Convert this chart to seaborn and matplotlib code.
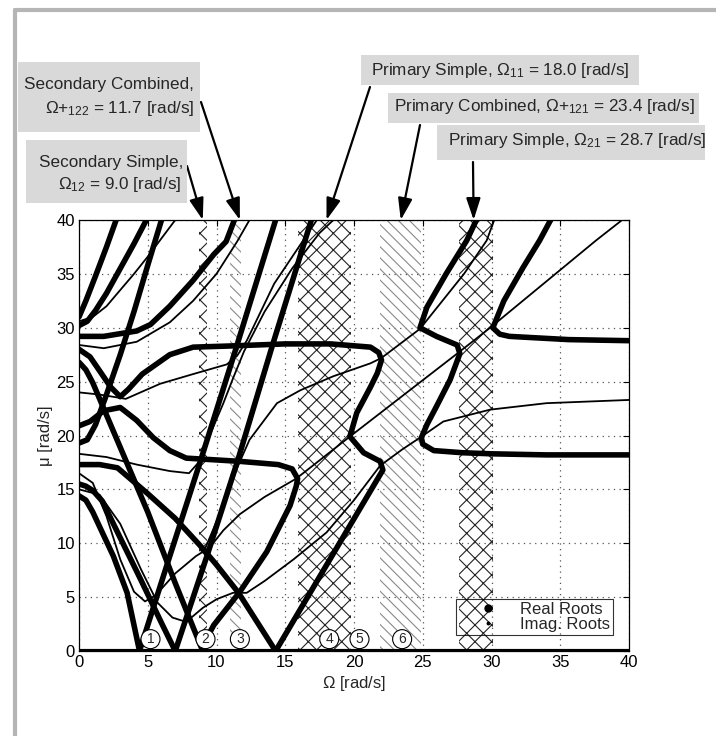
import matplotlib
matplotlib.use("Agg")
import matplotlib.pyplot as plt
import seaborn as sns
import pandas as pd
from matplotlib.patches import Rectangle
from matplotlib.lines import Line2D

# ---------------- data ----------------
x_ticks = [0, 5, 10, 15, 20, 25, 30, 35, 40]
y_ticks = [0, 5, 10, 15, 20, 25, 30, 35, 40]

# instability zones (Omega ranges)
cross_bands = [(8.7, 9.3), (15.9, 19.8), (27.6, 30.1)]
dot_bands = [(11.0, 11.8), (21.9, 24.9)]

zone_labels = ["1", "2", "3", "4", "5", "6"]
zone_label_x = [5.2, 9.2, 11.7, 18.2, 20.4, 23.5]
zone_label_y = 1.1

# real roots (thick curves)
real_a_x = [0, 0.5, 1.0, 2.5, 3.5, 4.4]
real_a_y = [14.4, 14.0, 12.9, 8.8, 5.4, 0]
real_b_x = [4.4, 6.6, 8.8, 11.3, 14.3]
real_b_y = [0, 8.8, 17.5, 27.6, 40]
real_c_x = [0, 0.5, 1.0, 1.7, 3.0, 4.5, 6.0, 7.0]
real_c_y = [15.5, 15.3, 14.9, 13.9, 10.5, 6.6, 2.6, 0]
real_d_x = [7.0, 9.3, 11.5, 14.1, 16.9]
real_d_y = [0, 8.8, 17.5, 28.5, 40]
real_e_x = [0, 0.5, 1.0, 2.0, 3.0, 5.0, 7.0, 9.0]
real_e_y = [26.8, 26.1, 24.9, 21.9, 18.9, 12.9, 6.3, 0]
real_f_x = [0, 0.8, 1.8, 3.0, 4.2, 5.4, 6.6, 7.8, 11.7, 14.5, 15.5, 15.9, 15.8, 15.35, 13.65, 11.7, 9.8, 9.0]
real_f_y = [20.9, 21.3, 22.3, 22.6, 21.4, 19.8, 18.6, 17.9, 17.6, 17.3, 16.9, 16.0, 15.3, 13.5, 9.2, 5.5, 2.4, 0.5]
real_g_x = [0, 1.5, 2.8, 5.0, 7.0, 8.8, 10.0, 11.6, 14.3]
real_g_y = [17.3, 17.3, 17.0, 14.6, 12.3, 9.8, 8.0, 5.4, 0]
real_h_x = [14.3, 22.1, 21.9, 20.7, 19.7, 20.2, 21.2, 21.7, 22.0, 21.8, 21.2, 18.3, 15.0, 10.8, 8.3, 6.6, 4.6, 3.6, 3.0, 2.3, 1.5, 0.8, 0]
real_h_y = [0, 16.8, 17.6, 18.4, 19.9, 22.1, 24.5, 25.8, 27.0, 27.7, 28.2, 28.5, 28.5, 28.3, 28.2, 27.5, 25.7, 24.3, 23.6, 24.5, 26.0, 27.3, 28.0]
real_i_x = [40, 34, 30, 27.9, 25.8, 25.0, 24.9, 25.3, 26.0, 27.0, 27.7, 27.5, 26.0, 24.8, 25.3, 26.7, 28.2, 28.9]
real_i_y = [18.2, 18.2, 18.3, 18.4, 18.6, 19.2, 19.8, 21.0, 22.7, 25.2, 27.6, 28.4, 29.2, 30.0, 31.9, 35.0, 38.1, 40]
real_j_x = [40, 35.6, 31.3, 30.6, 30.1, 30.9, 32.3, 33.5, 34.3]
real_j_y = [28.8, 28.9, 29.2, 29.4, 30.0, 32.5, 35.6, 38.1, 40]
real_k_x = [0, 0.5, 1.2, 2.0, 2.7]
real_k_y = [31.0, 32.5, 34.8, 37.5, 40]
real_l_x = [0, 0.6, 1.2, 2.0, 3.0, 4.0, 4.9]
real_l_y = [30.2, 30.6, 31.6, 33.2, 35.5, 37.8, 40]
real_m_x = [0, 1.8, 4.2, 5.2, 6.6, 8.3, 9.8, 10.7, 11.3]
real_m_y = [29.2, 29.2, 29.7, 30.3, 32.0, 34.4, 36.8, 38.0, 40]
real_n_x = [0, 0.6, 1.2, 2.0, 3.0, 4.0, 5.0, 6.0]
real_n_y = [19.3, 19.6, 21.0, 23.8, 27.5, 31.5, 35.8, 40]

# imaginary roots (thin curves)
imag_a_x = [0, 1.5, 3.4, 5.9, 8.3, 10.75, 11.5, 12.2, 14.2, 17.3]
imag_a_y = [24, 23.8, 23.4, 24.8, 25.7, 26.6, 27.4, 28.8, 34.1, 40]
imag_b_x = [0, 1.8, 4.2, 6.6, 8.3, 10, 11.5, 12.4]
imag_b_y = [28.4, 28.1, 28.7, 30.5, 32.5, 35, 38, 40]
imag_c_x = [0, 1, 2, 3, 4, 4.8, 5.6, 7, 8.5, 9.5, 10.5, 11.7, 13.5, 15.8, 19.7, 27.5, 29.9, 37.6, 39.5]
imag_c_y = [16.5, 15.6, 12.5, 8.5, 5.5, 4.6, 5.2, 7.2, 8.8, 9.6, 11.2, 12.7, 14.3, 16.0, 19.9, 27.6, 30.0, 38.1, 40]
imag_d_x = [0, 1.5, 3, 4.5, 5.7, 6.8, 7.8, 9, 10, 11.2, 12.2, 13.5, 15.6, 18, 20, 21.9, 23.5, 24.8, 26.5, 29.9, 34, 40]
imag_d_y = [15, 14.5, 11.8, 7.6, 4.5, 3.1, 2.7, 4.0, 4.8, 5.4, 5.4, 6.5, 8.5, 11, 14, 17.2, 18.7, 19.8, 21.3, 22.4, 23, 23.3]
imag_e_x = [0, 2, 4.2, 6.6, 8, 8.7, 9.5, 10.5, 11.2, 12, 13.5, 15.5, 17.5, 18.5]
imag_e_y = [18.3, 18, 17.3, 16.7, 16.5, 17.5, 20, 23, 25.3, 27.8, 31.5, 35.5, 38.8, 40]
imag_f_x = [0, 1, 2, 3, 4, 5, 6, 7]
imag_f_y = [30.6, 31.0, 32, 33.5, 35, 36.6, 38.3, 40]
imag_g_x = [9.2, 10.5, 11.5, 12.4, 14.4, 16.1, 18.5, 21.2, 22.0, 24.8, 28.0, 29.65, 30.2]
imag_g_y = [9.6, 13.5, 17.0, 19.6, 23.0, 24.2, 25.5, 26.7, 27.2, 29.9, 35.0, 38.1, 40]

real_curves = [
    (real_a_x, real_a_y), (real_b_x, real_b_y), (real_c_x, real_c_y),
    (real_d_x, real_d_y), (real_e_x, real_e_y), (real_f_x, real_f_y),
    (real_g_x, real_g_y), (real_h_x, real_h_y), (real_i_x, real_i_y),
    (real_j_x, real_j_y), (real_k_x, real_k_y), (real_l_x, real_l_y),
    (real_m_x, real_m_y), (real_n_x, real_n_y),
]
imag_curves = [
    (imag_a_x, imag_a_y), (imag_b_x, imag_b_y), (imag_c_x, imag_c_y),
    (imag_d_x, imag_d_y), (imag_e_x, imag_e_y), (imag_f_x, imag_f_y),
    (imag_g_x, imag_g_y),
]

annot_texts = [
    ["Secondary Simple,", r"$\Omega_{12}$ = 9.0 [rad/s]"],
    ["Secondary Combined,", r"$\Omega$+$_{122}$ = 11.7 [rad/s]"],
    [r"Primary Simple, $\Omega_{11}$ = 18.0 [rad/s]"],
    [r"Primary Combined, $\Omega$+$_{121}$ = 23.4 [rad/s]"],
    [r"Primary Simple, $\Omega_{21}$ = 28.7 [rad/s]"],
]
annot_targets = [9.0, 11.7, 18.0, 23.4, 28.7]

# ---------------- style ----------------
sns.set_theme(style="white")
plt.rcParams["font.family"] = ["Liberation Sans", "DejaVu Sans"]
plt.rcParams["mathtext.fontset"] = "custom"
plt.rcParams["mathtext.rm"] = "Liberation Sans"
plt.rcParams["mathtext.it"] = "Liberation Sans:italic"
plt.rcParams["mathtext.default"] = "regular"
plt.rcParams["hatch.linewidth"] = 0.8

W, H = 716, 736
fig = plt.figure(figsize=(W / 100, H / 100), dpi=100)
fig.patch.set_facecolor("white")


def fx(px):
    return px / W


def fy(py):
    return 1 - py / H


AX_L, AX_R, AX_T, AX_B = 79, 629, 220, 651
ax = fig.add_axes([fx(AX_L), fy(AX_B), (AX_R - AX_L) / W, (AX_B - AX_T) / H])
ax.set_facecolor("white")

# outer frame (left/top visible)
fig.add_artist(Line2D([fx(15), fx(15)], [fy(10), 0], transform=fig.transFigure, color="#b5b5b5", lw=3))
fig.add_artist(Line2D([fx(15), 1], [fy(10), fy(10)], transform=fig.transFigure, color="#b5b5b5", lw=3))

# hatched zones
for x0, x1 in cross_bands:
    ax.add_patch(Rectangle((x0, 0), x1 - x0, 40, facecolor="none", edgecolor="#222222",
                           hatch="xx", lw=0, zorder=1))
for x0, x1 in dot_bands:
    ax.add_patch(Rectangle((x0, 0), x1 - x0, 40, facecolor="none", edgecolor="#8a8a8a",
                           hatch="\\\\\\", lw=0, zorder=1))

# curves
for cx, cy in imag_curves:
    df = pd.DataFrame({"x": cx, "y": cy})
    sns.lineplot(data=df, x="x", y="y", sort=False, estimator=None, ax=ax,
                 color="black", lw=1.3, zorder=3)
for cx, cy in real_curves:
    df = pd.DataFrame({"x": cx, "y": cy})
    sns.lineplot(data=df, x="x", y="y", sort=False, estimator=None, ax=ax,
                 color="black", lw=4.0, zorder=4, solid_capstyle="round", solid_joinstyle="round")

# roots on the axis
sns.lineplot(x=[0, 40], y=[0, 0], ax=ax, color="black", lw=3.0, zorder=5)

# zone numbers
for lab, lx in zip(zone_labels, zone_label_x):
    ax.text(lx, zone_label_y, lab, ha="center", va="center", fontsize=10, zorder=6,
            bbox=dict(boxstyle="circle,pad=0.18", fc="white", ec="black", lw=0.8))

ax.set_xlim(0, 40)
ax.set_ylim(0, 40)
ax.set_xticks(x_ticks)
ax.set_yticks(y_ticks)
ax.grid(True, color="#555555", linestyle=(0, (1, 3.5)), lw=0.9)
ax.tick_params(direction="in", length=4, width=0.8, top=True, right=True,
               labelsize=12, colors="black", pad=3)
for s in ax.spines.values():
    s.set_color("black")
    s.set_linewidth(0.9)
ax.set_xlabel(r"$\Omega$ [rad/s]", fontsize=12, labelpad=3)
ax.set_ylabel(r"μ [rad/s]", fontsize=12, labelpad=2)

# legend
handles = [Line2D([], [], marker="o", ms=5, color="black", ls="none"),
           Line2D([], [], marker="o", ms=1.8, color="black", ls="none")]
leg = ax.legend(handles, ["Real Roots", "Imag. Roots"], loc="lower right",
                bbox_to_anchor=(0.986, 0.017), fontsize=12, frameon=True,
                handlelength=3.4, handletextpad=0.2, borderpad=0.2,
                labelspacing=0.0, fancybox=False)
leg.get_frame().set_edgecolor("black")
leg.get_frame().set_linewidth(0.8)
leg.get_frame().set_facecolor("none")
leg.set_zorder(7)

# annotation boxes (pixel geometry of the picture)
box_rects = [(26, 140, 187, 203), (18, 62, 200, 132), (361, 55, 639, 85),
             (388, 93, 699, 123), (437, 125, 705, 160)]
for (x0, y0, x1, y1) in box_rects:
    fig.add_artist(Rectangle((fx(x0), fy(y1)), fx(x1) - fx(x0), fy(y0) - fy(y1),
                             transform=fig.transFigure, facecolor="#d9d9d9", edgecolor="none"))

fs = 12.3
fig.text(fx(183), fy(163), annot_texts[0][0], ha="right", va="center", fontsize=fs)
fig.text(fx(181), fy(184), annot_texts[0][1], ha="right", va="center", fontsize=fs)
fig.text(fx(194), fy(84), annot_texts[1][0], ha="right", va="center", fontsize=fs)
fig.text(fx(194), fy(109), annot_texts[1][1], ha="right", va="center", fontsize=fs)
fig.text(fx(500), fy(71), annot_texts[2][0], ha="center", va="center", fontsize=fs)
fig.text(fx(544), fy(107), annot_texts[3][0], ha="center", va="center", fontsize=fs)
fig.text(fx(577), fy(141), annot_texts[4][0], ha="center", va="center", fontsize=fs)

tails = [(187, 166), (201, 102), (370, 87), (420, 125), (473, 162)]
for (tx, ty), tgt in zip(tails, annot_targets):
    ax.annotate("", xy=(tgt, 40), xycoords="data", xytext=(fx(tx), fy(ty)),
                textcoords="figure fraction", annotation_clip=False,
                arrowprops=dict(arrowstyle="-|>,head_length=1.1,head_width=0.36",
                                color="black", lw=1.6, shrinkA=0, shrinkB=0))

fig.savefig("out.png", dpi=100)
